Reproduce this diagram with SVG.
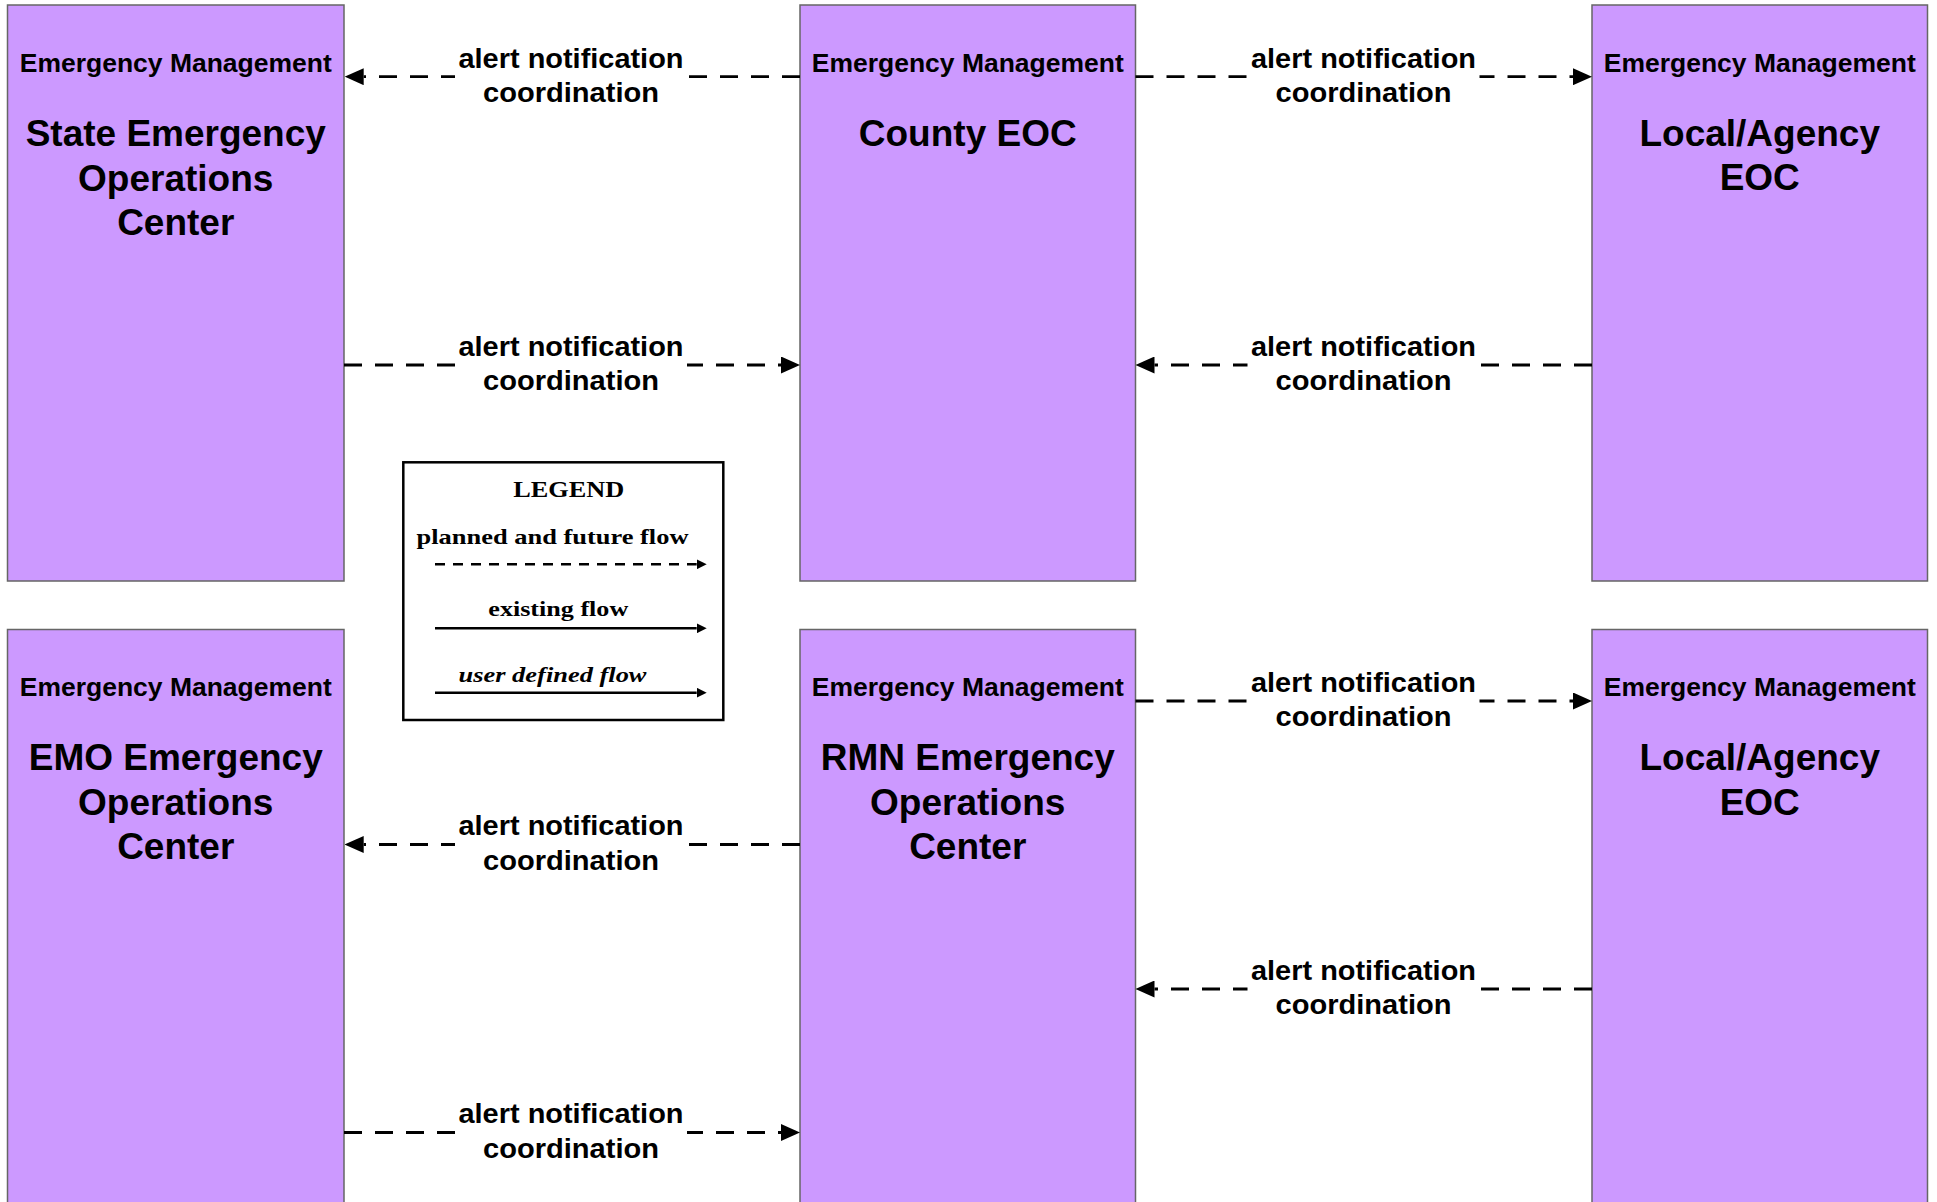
<svg xmlns="http://www.w3.org/2000/svg" width="1937" height="1202" viewBox="0 0 1937 1202">
<defs>
<style>
.box{fill:#CC99FF;stroke:#666666;stroke-width:1.5}
.em{font-family:"Liberation Sans",Arial,sans-serif;font-weight:bold;font-size:26px;fill:#000;text-anchor:middle}
.name{font-family:"Liberation Sans",Arial,sans-serif;font-weight:bold;font-size:37px;fill:#000;text-anchor:middle}
.lbl{font-family:"Liberation Sans",Arial,sans-serif;font-weight:bold;font-size:28.5px;fill:#000;text-anchor:middle}
.flow{fill:none;stroke:#000;stroke-width:2.8;stroke-dasharray:18 13;marker-end:url(#ah)}
.bg{fill:#fff;stroke:none}
.leg{font-family:"Liberation Serif","Times New Roman",serif;font-weight:bold;fill:#000;text-anchor:middle}
.legline{fill:none;stroke:#000;stroke-width:2.6;marker-end:url(#lah)}
</style>
<marker id="ah" markerUnits="userSpaceOnUse" markerWidth="19" markerHeight="17" viewBox="0 0 19 17" refX="0" refY="8.5" orient="auto"><path d="M0,0 L19,8.5 L0,17 Z" fill="#000"/></marker>
<marker id="lah" markerUnits="userSpaceOnUse" markerWidth="10" markerHeight="10" viewBox="0 0 10 10" refX="0" refY="5" orient="auto"><path d="M0,0 L10,5 L0,10 Z" fill="#000"/></marker>
</defs>
<rect width="1937" height="1202" fill="#fff"/>

<g id="state-eoc">
<rect class="box" x="7.5" y="5" width="336.5" height="576"/>
<text class="em" x="175.75" y="71.7" textLength="312" lengthAdjust="spacingAndGlyphs">Emergency Management</text>
<text class="name" x="175.75" y="146">State Emergency</text>
<text class="name" x="175.75" y="190.5">Operations</text>
<text class="name" x="175.75" y="235">Center</text>
</g>

<g id="county-eoc">
<rect class="box" x="800" y="5" width="335.5" height="576"/>
<text class="em" x="967.75" y="71.7" textLength="312" lengthAdjust="spacingAndGlyphs">Emergency Management</text>
<text class="name" x="967.75" y="145.5">County EOC</text>
</g>

<g id="local-eoc-1">
<rect class="box" x="1592" y="5" width="335.5" height="576"/>
<text class="em" x="1759.75" y="71.7" textLength="312" lengthAdjust="spacingAndGlyphs">Emergency Management</text>
<text class="name" x="1759.75" y="145.5">Local/Agency</text>
<text class="name" x="1759.75" y="190">EOC</text>
</g>

<g id="emo-eoc">
<rect class="box" x="7.5" y="629.5" width="336.5" height="600"/>
<text class="em" x="175.75" y="696.2" textLength="312" lengthAdjust="spacingAndGlyphs">Emergency Management</text>
<text class="name" x="175.75" y="770">EMO Emergency</text>
<text class="name" x="175.75" y="814.5">Operations</text>
<text class="name" x="175.75" y="859">Center</text>
</g>

<g id="rmn-eoc">
<rect class="box" x="800" y="629.5" width="335.5" height="600"/>
<text class="em" x="967.75" y="696.2" textLength="312" lengthAdjust="spacingAndGlyphs">Emergency Management</text>
<text class="name" x="967.75" y="770">RMN Emergency</text>
<text class="name" x="967.75" y="814.5">Operations</text>
<text class="name" x="967.75" y="859">Center</text>
</g>

<g id="local-eoc-2">
<rect class="box" x="1592" y="629.5" width="335.5" height="600"/>
<text class="em" x="1759.75" y="696.2" textLength="312" lengthAdjust="spacingAndGlyphs">Emergency Management</text>
<text class="name" x="1759.75" y="770">Local/Agency</text>
<text class="name" x="1759.75" y="814.5">EOC</text>
</g>

<g id="connectors">
<path class="flow" d="M800,76.7 L363.7,76.7"/>
<rect class="bg" x="455" y="72" width="232" height="9"/>
<text class="lbl" x="571" y="67.5" textLength="225" lengthAdjust="spacingAndGlyphs">alert notification</text>
<text class="lbl" x="571" y="102" textLength="176" lengthAdjust="spacingAndGlyphs">coordination</text>

<path class="flow" d="M344,365 L781,365"/>
<rect class="bg" x="455" y="360.5" width="232" height="9"/>
<text class="lbl" x="571" y="355.8" textLength="225" lengthAdjust="spacingAndGlyphs">alert notification</text>
<text class="lbl" x="571" y="390.3" textLength="176" lengthAdjust="spacingAndGlyphs">coordination</text>

<path class="flow" d="M1135.5,76.7 L1573,76.7"/>
<rect class="bg" x="1247.5" y="72" width="232" height="9"/>
<text class="lbl" x="1363.5" y="67.5" textLength="225" lengthAdjust="spacingAndGlyphs">alert notification</text>
<text class="lbl" x="1363.5" y="102" textLength="176" lengthAdjust="spacingAndGlyphs">coordination</text>

<path class="flow" d="M1592,365 L1154.5,365"/>
<rect class="bg" x="1247.5" y="360.5" width="232" height="9"/>
<text class="lbl" x="1363.5" y="355.8" textLength="225" lengthAdjust="spacingAndGlyphs">alert notification</text>
<text class="lbl" x="1363.5" y="390.3" textLength="176" lengthAdjust="spacingAndGlyphs">coordination</text>

<path class="flow" d="M1135.5,701 L1573,701"/>
<rect class="bg" x="1247.5" y="696.5" width="232" height="9"/>
<text class="lbl" x="1363.5" y="691.8" textLength="225" lengthAdjust="spacingAndGlyphs">alert notification</text>
<text class="lbl" x="1363.5" y="726.3" textLength="176" lengthAdjust="spacingAndGlyphs">coordination</text>

<path class="flow" d="M800,844.5 L363.7,844.5"/>
<rect class="bg" x="455" y="840" width="232" height="9"/>
<text class="lbl" x="571" y="835.3" textLength="225" lengthAdjust="spacingAndGlyphs">alert notification</text>
<text class="lbl" x="571" y="869.8" textLength="176" lengthAdjust="spacingAndGlyphs">coordination</text>

<path class="flow" d="M1592,989 L1154.5,989"/>
<rect class="bg" x="1247.5" y="984.5" width="232" height="9"/>
<text class="lbl" x="1363.5" y="979.8" textLength="225" lengthAdjust="spacingAndGlyphs">alert notification</text>
<text class="lbl" x="1363.5" y="1014.3" textLength="176" lengthAdjust="spacingAndGlyphs">coordination</text>

<path class="flow" d="M344,1132.5 L781,1132.5"/>
<rect class="bg" x="455" y="1128" width="232" height="9"/>
<text class="lbl" x="571" y="1123.3" textLength="225" lengthAdjust="spacingAndGlyphs">alert notification</text>
<text class="lbl" x="571" y="1157.8" textLength="176" lengthAdjust="spacingAndGlyphs">coordination</text>
</g>

<g id="legend">
<rect x="403.3" y="462.3" width="320" height="257.7" fill="#fff" stroke="#000" stroke-width="2.5"/>
<text class="leg" x="568.8" y="496.7" font-size="24" textLength="111" lengthAdjust="spacingAndGlyphs">LEGEND</text>
<text class="leg" x="552.5" y="544.3" font-size="22" textLength="272" lengthAdjust="spacingAndGlyphs">planned and future flow</text>
<path class="legline" d="M435,564.3 L696.7,564.3" stroke-dasharray="10 8"/>
<text class="leg" x="558.3" y="615.7" font-size="22" textLength="140" lengthAdjust="spacingAndGlyphs">existing flow</text>
<path class="legline" d="M435,628.3 L696.7,628.3"/>
<text class="leg" x="552.5" y="681.7" font-size="22" font-style="italic" textLength="188" lengthAdjust="spacingAndGlyphs">user defined flow</text>
<path class="legline" d="M435,692.7 L696.7,692.7"/>
</g>
</svg>
